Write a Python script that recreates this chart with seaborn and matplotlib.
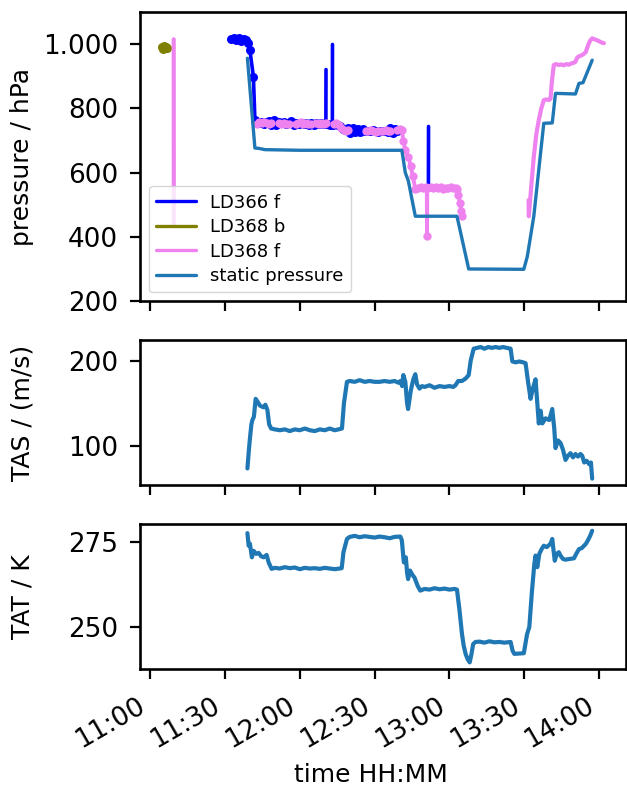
import numpy as np
import pandas as pd
import matplotlib
matplotlib.use("Agg")
import matplotlib.pyplot as plt
import matplotlib.dates as mdates
from matplotlib.ticker import FuncFormatter
from matplotlib.lines import Line2D
import seaborn as sns

# ---------------- data (time in minutes after 11:00) ----------------
# static pressure [hPa]
static_t = [39.0, 42.0, 43.5, 46.0, 60.0, 100.9, 102.3, 103.5, 106.3, 123.0, 127.7, 149.8,
            151.2, 153.8, 157.8, 161.2, 162.5, 170.5, 171.9, 173.5, 177.2]
static_p = [956, 677, 676, 672, 670, 670, 600, 575, 465, 465, 301, 300,
            340, 465, 754, 755, 847, 845, 878, 880, 950]

# LD366 f : segments
ld366_t = [32.5, 33.5, 34.5, 35.5, 36.5, 37.5, 38.5, 39.3, 40.0, 41.4, 42.0,
           42.5, 43.5, 44.5, 45.5, 46.5, 47.5, 48.5, 49.5, 50.5, 51.5, 52.5, 53.5,
           54.5, 55.5, 56.5, 57.5, 58.5, 59.5, 60.5, 61.5, 62.5, 63.5, 64.5, 65.5,
           66.5, 67.5, 68.5, 69.5, 70.5, 71.5, 72.3, 73.3, 74.2, 75.2, 76.2, 77.2,
           78.2, 79.2, 80.2, 81.2, 82.2, 83.2, 84.2, 85.2, 86.2, 87.2, 88.2, 89.2,
           90.2, 91.2, 92.2, 93.2, 94.2, 95.2, 96.2, 97.2, 98.2, 99.0,
           70.45, 70.5,
           73.05, 73.1,
           111.55, 111.6]
ld366_p = [1015, 1020, 1012, 1018, 1010, 1016, 1012, 1005, 981, 899, 764,
           762, 755, 758, 752, 757, 760, 750, 765, 748, 758, 755, 757,
           752, 756, 760, 748, 755, 753, 756, 752, 754, 750, 756, 749,
           755, 752, 754, 751, 752, 753, 750, 748, 752, 748, 745, 735,
           733, 740, 725, 738, 728, 736, 726, 735, 730, 731, 729, 732,
           730, 728, 731, 729, 730, 728, 738, 725, 736, 730,
           752, 921,
           748, 999,
           552, 744]
ld366_seg = [0] * 69 + [1, 1] + [2, 2] + [3, 3]

# LD368 b
ld368b_t = [4.8, 5.2, 5.6, 6.0, 6.4, 6.7]
ld368b_p = [990, 985, 993, 987, 991, 989]

# LD368 f : segments
ld368f_t = [9.45, 9.5,
            42.7, 43.7, 44.7, 45.7, 46.7, 47.7, 48.3,
            51.6, 52.6, 53.6, 54.6, 55.6,
            58.3, 59.3, 60.3, 61.3, 62.3, 63.3, 64.3,
            66.5, 67.5, 68.5, 69.5, 70.3,
            73.6, 74.6, 75.6, 76.6, 77.6, 78.6, 79.2,
            86.5, 87.5, 88.5, 89.5, 90.5, 91.5, 92.5, 93.5, 94.5, 95.5, 96.2,
            99.0, 100.0, 100.9, 101.5, 102.3, 103.5, 104.5, 105.3, 106.3, 107.5,
            108.5, 109.5, 110.5, 110.9, 111.0, 111.1, 112.5, 113.5, 114.5, 115.5,
            116.5, 117.5, 118.5, 119.5, 120.5, 121.5, 122.5, 123.0, 123.6, 124.2,
            124.8, 125.1,
            151.7, 151.8, 152.8, 153.8, 154.8, 155.8, 156.8, 157.8, 158.8, 159.8,
            160.5, 161.0, 161.8, 162.8, 163.8, 164.8, 165.8, 166.8, 167.8, 168.8,
            169.8, 170.5, 171.2, 171.9, 172.9, 173.9, 174.6, 175.5, 176.3, 177.2,
            178.2, 179.2, 180.2, 181.0, 181.9]
ld368f_p = [1015, 440,
            752, 757, 754, 757, 755, 753, 756,
            754, 752, 756, 752, 753,
            752, 755, 757, 753, 755, 752, 753,
            754, 752, 755, 751, 754,
            752, 756, 748, 740, 733, 730, 732,
            731, 729, 732, 730, 728, 731, 729, 730, 732, 729, 731,
            732, 735, 733, 700, 671, 650, 620, 590, 550, 553,
            555, 552, 556, 553, 402, 553, 555, 552, 556, 553,
            555, 551, 554, 552, 555, 553, 552, 550, 530, 505,
            480, 465,
            515, 465, 560, 650, 720, 764, 800, 826, 828, 826,
            830, 880, 935, 938, 935, 937, 934, 938, 936, 940,
            942, 945, 958, 962, 965, 970, 975, 995, 1010, 1018,
            1015, 1012, 1008, 1005, 1003]
ld368f_seg = [0] * 2 + [1] * 7 + [2] * 5 + [3] * 7 + [4] * 5 + [5] * 7 + [6] * 11 + [7] * 32 + [8] * 35

# true air speed [m/s]
tas_t = [39.0, 39.6, 40.0, 40.6, 41.0, 41.6, 42.3, 43.0, 44.0, 45.4, 46.2, 47.0, 47.7,
         48.5, 50, 52, 54, 56, 58, 60, 62, 64, 66, 68, 70, 72, 74, 75.5, 76.9, 77.7,
         78.9, 80, 82, 84, 86, 88, 90, 92, 94, 96, 98, 99.5, 100.3, 101.0, 101.5,
         102.3, 103.0, 103.4, 104.5, 105.5, 106.3, 107.0, 108, 109, 110, 112, 114,
         116, 118, 120, 121.5, 122.4, 123.5, 125, 126.5, 127.7, 128.5, 129.7, 131,
         132.5, 134, 135.5, 137, 138.5, 140, 141.5, 143, 144.5, 145.2, 146.5, 148,
         149.5, 150.5, 151.5, 152.5, 153.5, 154.5, 155.2, 155.8, 156.5, 157.2, 158.5,
         160, 161.2, 162.0, 162.5, 163.5, 164.5, 165.5, 166.5, 167.5, 168.5, 169.5,
         170.5, 171.5, 172.5, 173.2, 174.0, 175, 176, 176.7, 177.2]
tas_v = [73, 95, 108, 125, 130, 134, 155, 152, 147, 145, 148, 142, 125,
         120, 119, 118, 119, 117, 119, 118, 120, 118, 117, 119, 118, 120, 118, 119, 120, 150,
         175, 176, 175, 177, 175, 176, 175, 175, 176, 175, 176, 174, 176, 170, 183,
         175, 150, 143, 165, 178, 184, 172, 167, 170, 169, 171, 168,
         170, 169, 170, 169, 171, 176, 176, 179, 183, 200, 214, 215,
         216, 214, 216, 215, 216, 215, 216, 215, 214, 199, 198, 199,
         198, 197, 175, 155, 168, 178, 150, 126, 141, 126, 132,
         130, 143, 120, 97, 106, 103, 95, 83, 88, 91, 86,
         90, 87, 90, 88, 80, 82, 78, 80, 61]

# total air temperature [K]
tat_t = [39.0, 39.5, 40.0, 40.8, 41.5, 42.5, 43.5, 44.5, 45.5, 46.7, 47.5, 48.7,
         50, 52, 54, 56, 58, 60, 62, 64, 66, 68, 70, 72, 74, 76.8, 77.5, 78.9,
         80, 82, 84, 86, 88, 90, 92, 94, 96, 98, 100.3, 100.9, 101.7, 102.5, 103.0,
         103.4, 104.2, 105, 106, 107.3, 108.3, 110, 112, 114, 116, 118, 120, 122,
         123.0, 124, 125, 125.7, 126.5, 127.3, 128.1, 128.8, 129.5, 130.4, 132, 134,
         136, 138, 140, 142, 144.5, 145.3, 146, 148, 149.8, 151.1, 152, 153, 154.0,
         154.5, 155.2, 156, 157.0, 157.8, 159, 160.5, 161.2, 161.8, 162.2, 163, 163.8,
         164.5, 165.5, 166.5, 168, 169.9, 170.8, 171.9, 173, 174.6, 175.5, 176.5, 177.2]
tat_k = [277.6, 273.9, 274.5, 270.5, 272.4, 271.5, 271.8, 270.8, 270.5, 271.2, 269, 267.1,
         267.4, 267.2, 267.6, 267.3, 267.5, 267.0, 267.4, 267.2, 267.3, 267.1, 267.4, 267.2,
         267.0, 267.3, 272, 275.9,
         276.5, 276.8, 276.4, 276.7, 276.5, 276.3, 276.6, 276.4, 276.1, 276.5, 276.6, 275.5,
         269, 270.5, 266.0,
         264.1, 266.6, 265.5, 264.5, 262, 260.7, 261.2, 261.0, 261.4, 261.1, 261.3, 261.0,
         261.2, 261.0, 255, 248, 244.5, 242, 240.5, 239.6, 242, 245, 245.6, 245.7, 245.4,
         245.8, 245.5, 245.6, 245.4, 245.6, 243, 242.1, 242.2, 242.3, 247.9, 250, 260,
         268.5, 271, 267.6, 271.5, 273, 273.9, 273.5, 274.5, 275.9, 272, 269.5, 271.5,
         272, 271, 270, 269.8, 270, 270.2, 271.5, 272.9, 273.2, 274.4, 275.5, 277, 278.3]

# ---------------- helpers ----------------
t0 = pd.Timestamp("2021-01-01 11:00:00")


def to_time(minutes):
    return t0 + pd.to_timedelta(np.asarray(minutes, dtype=float), unit="m")


df_static = pd.DataFrame({"time": to_time(static_t), "p": static_p})
df_366 = pd.DataFrame({"time": to_time(ld366_t), "p": ld366_p, "seg": ld366_seg})
df_368b = pd.DataFrame({"time": to_time(ld368b_t), "p": ld368b_p, "seg": 0})
df_368f = pd.DataFrame({"time": to_time(ld368f_t), "p": ld368f_p, "seg": ld368f_seg})
df_tas = pd.DataFrame({"time": to_time(tas_t), "v": tas_v})
df_tat = pd.DataFrame({"time": to_time(tat_t), "k": tat_k})

# noisy (dotted-looking) parts vs. clean line parts
df_366_noisy = df_366[df_366["seg"] == 0]
df_366_clean = df_366[df_366["seg"] != 0]
df_368f_noisy = df_368f[df_368f["seg"].between(1, 7)]
df_368f_clean = df_368f[~df_368f["seg"].between(1, 7)]

# ---------------- style ----------------
sns.set_theme(style="ticks", rc={
    "axes.edgecolor": "black", "axes.labelcolor": "black", "text.color": "black",
    "xtick.color": "black", "ytick.color": "black",
    "axes.linewidth": 1.9, "xtick.major.width": 1.6, "ytick.major.width": 1.6,
    "xtick.major.size": 7.2, "ytick.major.size": 7.2,
    "xtick.major.pad": 10, "ytick.major.pad": 8.6,
    "axes.labelpad": 6,
    "font.size": 18, "axes.labelsize": 18,
    "xtick.labelsize": 18.9, "ytick.labelsize": 18.9,
})
plt.rcParams["font.family"] = ["DejaVu Sans"]

fig = plt.figure(figsize=(6.27, 7.87), dpi=100)
gs = fig.add_gridspec(3, 1, height_ratios=[2, 1, 1], left=0.2233, right=0.9984,
                      top=0.9848, bottom=0.15, hspace=0.202)
ax1 = fig.add_subplot(gs[0])
ax2 = fig.add_subplot(gs[1], sharex=ax1)
ax3 = fig.add_subplot(gs[2], sharex=ax1)

c366, c368b, c368f, cstat = "blue", "olive", "violet", "#1f77b4"
common = dict(x="time", y="p", units="seg", estimator=None, sort=True,
              legend=False, ax=ax1)

sns.lineplot(data=df_366_noisy, color=c366, lw=2.6, marker="o", markersize=6.5,
             markeredgewidth=0, **common)
sns.lineplot(data=df_366_clean, color=c366, lw=2.6, **common)
sns.lineplot(data=df_368b, color=c368b, lw=2.4, marker="o", markersize=6.5,
             markeredgewidth=0, **common)
sns.lineplot(data=df_368f_noisy, color=c368f, lw=2.8, marker="o", markersize=6,
             markeredgewidth=0, **common)
sns.lineplot(data=df_368f_clean, color=c368f, lw=3.0, **common)
sns.lineplot(data=df_static, x="time", y="p", color=cstat, lw=2.4, ax=ax1, legend=False)

sns.lineplot(data=df_tas, x="time", y="v", color=cstat, lw=3.0, ax=ax2, legend=False)
sns.lineplot(data=df_tat, x="time", y="k", color=cstat, lw=3.0, ax=ax3, legend=False)

handles = [Line2D([], [], color=c366, lw=2.4, label="LD366 f"),
           Line2D([], [], color=c368b, lw=2.4, label="LD368 b"),
           Line2D([], [], color=c368f, lw=2.4, label="LD368 f"),
           Line2D([], [], color=cstat, lw=2.4, label="static pressure")]
ax1.legend(handles=handles, loc="lower left", fontsize=13, handlelength=2.2,
           labelspacing=0.36)

ax1.set_ylim(200, 1100)
ax1.set_yticks([200, 400, 600, 800, 1000])
ax1.yaxis.set_major_formatter(FuncFormatter(lambda v, pos: f"{v:,.0f}".replace(",", ".")))
ax2.set_yticks([100, 200])
ax3.set_yticks([250, 275])

ax1.set_ylabel("pressure / hPa")
ax2.set_ylabel("TAS / (m/s)")
ax3.set_ylabel("TAT / K")
ax1.set_xlabel("")
ax2.set_xlabel("")
ax3.set_xlabel("time HH:MM", x=0.475, labelpad=7)

ax3.xaxis.set_major_locator(mdates.MinuteLocator(byminute=[0, 30]))
ax3.xaxis.set_major_formatter(mdates.DateFormatter("%H:%M"))
plt.setp(ax1.get_xticklabels(), visible=False)
plt.setp(ax2.get_xticklabels(), visible=False)
plt.setp(ax3.get_xticklabels(), rotation=30, ha="right")

fig.align_ylabels([ax1, ax2, ax3])
fig.savefig("out.png", dpi=100)
